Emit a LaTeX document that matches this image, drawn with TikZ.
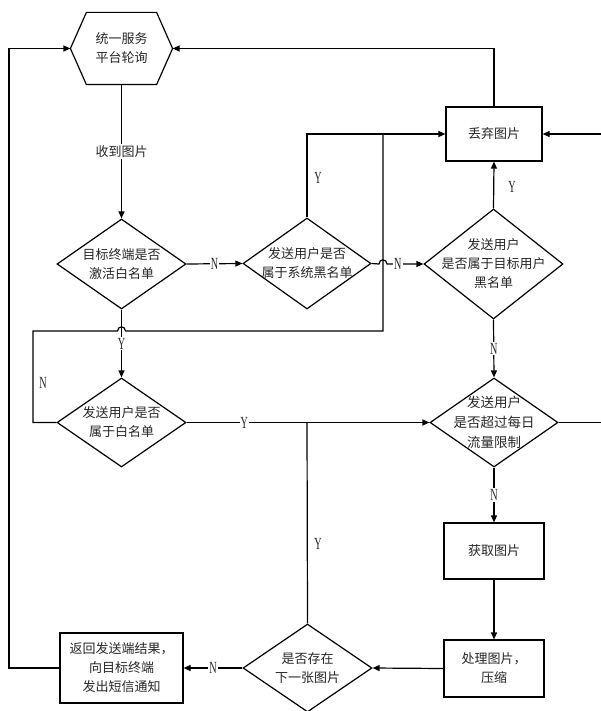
\documentclass[tikz,border=0pt]{standalone}
\usepackage{fontspec}
\newfontfamily\cjk{Noto Sans CJK SC}
\newfontfamily\latn[FakeStretch=0.6]{Liberation Serif}
\usetikzlibrary{shapes.geometric,arrows.meta}

\begin{document}
\begin{tikzpicture}[x=1pt,y=-1pt,
  line width=1.2pt,
  arr/.style={-{Triangle[length=7pt,width=6pt]}},
  dia/.style={diamond,draw,inner sep=0pt},
  boxn/.style={rectangle,draw,inner sep=0pt},
  txt/.style={font=\cjk\fontsize{13}{19}\selectfont,align=center,inner sep=0pt,text=black!85},
  yn/.style={font=\latn\fontsize{17}{17}\selectfont,inner sep=1pt,text=black!85},
  ynw/.style={yn,fill=white},
]
\useasboundingbox (0,0) rectangle (601,711);

% start: hexagonal polling node
\node[txt,minimum width=101pt,minimum height=71pt] (hex) at (121.5,48.5) {统一服务\\平台轮询};
\draw ([xshift=16pt]hex.north west) -- ([xshift=-16pt]hex.north east) -- (hex.east)
  -- ([xshift=-16pt]hex.south east) -- ([xshift=16pt]hex.south west) -- (hex.west) -- cycle;

% process boxes
\node[boxn,txt,minimum width=96pt,minimum height=54pt] (drop) at (494,134) {丢弃图片};
\node[boxn,txt,minimum width=100pt,minimum height=56pt] (get) at (494,551) {获取图片};
\node[boxn,txt,minimum width=100pt,minimum height=57pt] (proc) at (494,668.5) {处理图片，\\压缩};
\node[boxn,txt,minimum width=123pt,minimum height=70pt] (ret) at (121.5,668) {返回发送端结果，\\向目标终端\\发出短信通知};

% decisions
\node[dia,minimum width=129pt,minimum height=90pt] (d1) at (121.5,264) {};
\node[txt] (d1t) at (d1) {目标终端是否\\激活白名单};
\node[dia,minimum width=128pt,minimum height=91pt] (d2) at (307,263.5) {};
\node[txt] (d2t) at (d2) {发送用户是否\\属于系统黑名单};
\node[dia,minimum width=139pt,minimum height=110pt] (d4) at (493.5,264) {};
\node[txt] (d4t) at (d4) {发送用户\\是否属于目标用户\\黑名单};
\node[dia,minimum width=129pt,minimum height=89pt] (d3) at (121.5,422.5) {};
\node[txt] (d3t) at (d3) {发送用户是否\\属于白名单};
\node[dia,minimum width=128pt,minimum height=89pt] (d5) at (494,422.5) {};
\node[txt,font=\cjk\fontsize{13.5}{20}\selectfont] (d5t) at (d5) {发送用户\\是否超过每日\\流量限制};
\node[dia,minimum width=129pt,minimum height=88pt] (d6) at (307.5,668) {};
\node[txt] (d6t) at (d6) {是否存在\\下一张图片};

% junction points
\coordinate (jA) at (383,134);
\coordinate (jB) at (307,422.5);

% connectors
\draw[arr] (hex.south) -- node[txt,fill=white,inner sep=2pt] (recv) {收到图片} (d1.north);
\draw[arr] (d1.east) -- node[ynw] (n1) {N} (d2.west);
\draw[arr] (d2.north) |- (drop.west);
\node[yn] (y1) at (318,178) {Y};
\draw[arr] (d2.east) -- (379,264) .. controls (379,258.5) and (387,258.5) .. (387,264)
  -- node[ynw,pos=0.3] (n2) {N} (d4.west);
\draw[arr] (d4.north) -- (drop.south);
\node[yn] (y2) at (512,187) {Y};
\draw[arr] (d4.south) -- node[ynw] (n3) {N} (d5.north);
\draw[arr] (d1.south) -- node[ynw] (y3) {Y} (d3.north);
\draw (d3.west) -- (33,422.5) -- (33,331) -- (117.5,331)
  .. controls (117.5,325.5) and (125.5,325.5) .. (125.5,331) -- (383,331) -- (jA);
\node[yn] (n4) at (43,383) {N};
\draw[arr] (d3.east) -- node[ynw,pos=0.238] (y4) {Y} (d5.west);
\draw (d6.north) -- (jB);
\node[yn] (y5) at (318,544) {Y};
\draw[arr] (d5.south) -- node[ynw] (n5) {N} (get.north);
\draw[arr] (get.south) -- (proc.north);
\draw[arr] (proc.west) -- (d6.east);
\draw[arr] (d6.west) -- node[ynw] (n6) {N} (ret.east);
\draw[arr] (ret.west) -- (9,668) |- (hex.west);
\draw[arr] (drop.north) |- (hex.east);
\draw[arr] (d5.east) -- (612,422.5) |- (drop.east);
\end{tikzpicture}
\end{document}
